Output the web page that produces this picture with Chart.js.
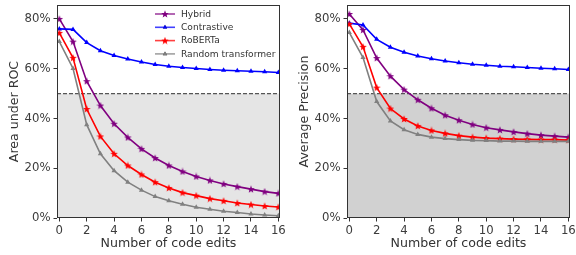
<!DOCTYPE html>
<html>
<head>
<meta charset="utf-8">
<script src="https://cdn.jsdelivr.net/npm/chart.js@4/dist/chart.umd.min.js"></script>
<style>
  html, body { margin: 0; padding: 0; background: #fff; }
  #wrap { position: relative; width: 576px; height: 255px; overflow: hidden; }
  #left { position: absolute; left: 0; top: 0; }
  #right { position: absolute; left: 290px; top: 0; }
</style>
</head>
<body>
<div id="wrap">
  <canvas id="left" width="290" height="255"></canvas>
  <canvas id="right" width="290" height="255"></canvas>
</div>
<script>
// number of code edits
const edits = [0, 1, 2, 3, 4, 5, 6, 7, 8, 9, 10, 11, 12, 13, 14, 15, 16];
const seriesNames = ['Hybrid', 'Contrastive', 'RoBERTa', 'Random transformer'];
const seriesColors = ['#800080', '#0000ff', '#ff0000', '#808080'];
const seriesMarkers = ['star', 'triangle', 'star', 'triangle'];

// Area under ROC (%)
const rocHybrid = [80, 70.9, 55, 45.2, 37.9, 32.4, 27.8, 24.1, 21.1, 18.7, 16.7, 15.1, 13.7, 12.6, 11.6, 10.6, 9.9];
const rocContrastive = [76, 75.8, 70.5, 67.2, 65.3, 63.9, 62.7, 61.7, 61, 60.5, 60.1, 59.7, 59.4, 59.2, 59, 58.8, 58.5];
const rocRoberta = [74.4, 64.4, 43.8, 32.8, 25.8, 21.1, 17.5, 14.4, 12.1, 10.2, 9, 7.8, 6.9, 6, 5.4, 4.8, 4.4];
const rocRandom = [70.9, 60.1, 37.5, 25.8, 19, 14.4, 11.2, 8.6, 6.9, 5.5, 4.3, 3.5, 2.7, 2.2, 1.6, 1.2, 0.9];

// Average precision (%)
const apHybrid = [82, 75.6, 64.3, 57, 51.6, 47.5, 44.1, 41.3, 39.3, 37.6, 36.3, 35.4, 34.6, 33.9, 33.3, 32.9, 32.5];
const apContrastive = [78.3, 77.6, 71.8, 68.6, 66.6, 65.1, 64, 63.1, 62.4, 61.8, 61.4, 61, 60.8, 60.5, 60.2, 60, 59.7];
const apRoberta = [78, 68.8, 52.4, 44, 39.8, 37, 35.2, 34, 33.1, 32.5, 32.1, 31.9, 31.7, 31.6, 31.5, 31.5, 31.3];
const apRandom = [74.5, 64.5, 46.8, 39, 35.5, 33.6, 32.5, 31.9, 31.5, 31.2, 31.1, 30.9, 30.9, 30.8, 30.8, 30.8, 30.8];

const yTicks = [0, 20, 40, 60, 80];
const xTicks = [0, 2, 4, 6, 8, 10, 12, 14, 16];
const chanceLevel = 50;

// small filled star like matplotlib '*'
function makeStar(color) {
  const c = document.createElement('canvas');
  c.width = 8; c.height = 8;
  const g = c.getContext('2d');
  g.fillStyle = color;
  g.beginPath();
  for (let i = 0; i < 10; i++) {
    const r = i % 2 === 0 ? 4 : 1.7;
    const a = -Math.PI / 2 + i * Math.PI / 5;
    const px = 4 + r * Math.cos(a), py = 4.3 + r * Math.sin(a);
    if (i === 0) g.moveTo(px, py); else g.lineTo(px, py);
  }
  g.closePath();
  g.fill();
  return c;
}

function pointStyleFor(i) {
  return seriesMarkers[i] === 'star' ? makeStar(seriesColors[i]) : 'triangle';
}

function makeDatasets(rows) {
  return rows.map((vals, i) => ({
    label: seriesNames[i],
    data: edits.map((e, k) => ({ x: e, y: vals[k] })),
    borderColor: seriesColors[i],
    backgroundColor: seriesColors[i],
    borderWidth: 1.6,
    pointStyle: pointStyleFor(i),
    pointRadius: 3,
    pointHoverRadius: 3,
    pointBorderWidth: 0,
    tension: 0,
    order: rows.length - 1 - i
  }));
}

// shaded area under chance level, dashed line and axes frame
const backdrop = {
  id: 'backdrop',
  beforeDatasetsDraw(chart, args, opts) {
    const { ctx, chartArea: a, scales } = chart;
    const y50 = scales.y.getPixelForValue(chanceLevel);
    const y0 = scales.y.getPixelForValue(0);
    ctx.save();
    ctx.fillStyle = opts.shade;
    ctx.fillRect(a.left, y50, a.right - a.left, y0 - y50);
    ctx.strokeStyle = '#555';
    ctx.lineWidth = 1.3;
    ctx.setLineDash([4, 2]);
    ctx.beginPath();
    ctx.moveTo(a.left, y50);
    ctx.lineTo(a.right, y50);
    ctx.stroke();
    ctx.restore();
  },
  afterDraw(chart) {
    const { ctx, chartArea: a } = chart;
    ctx.save();
    ctx.strokeStyle = '#333';
    ctx.lineWidth = 1;
    ctx.strokeRect(a.left + 0.5, a.top + 0.5, a.right - a.left - 1, a.bottom - a.top - 1);
    ctx.restore();
  }
};

// legend drawn inside the plot area
const innerLegend = {
  id: 'innerLegend',
  afterDraw(chart, args, opts) {
    if (!opts.show) return;
    const { ctx } = chart;
    ctx.save();
    ctx.font = '9.1px "DejaVu Sans"';
    ctx.textBaseline = 'middle';
    chart.data.datasets.forEach((ds, i) => {
      const y = 14 + i * 13.3;
      ctx.strokeStyle = ds.borderColor;
      ctx.globalAlpha = 0.75;
      ctx.lineWidth = 1.6;
      ctx.beginPath();
      ctx.moveTo(155, y);
      ctx.lineTo(175, y);
      ctx.stroke();
      ctx.globalAlpha = 1;
      Chart.helpers.drawPoint(ctx, { pointStyle: ds.pointStyle, radius: 2.5, borderWidth: 0 }, 165, y);
      ctx.fillStyle = ds.backgroundColor;
      ctx.fill();
      ctx.fillStyle = '#333';
      ctx.fillText(ds.label, 181, y + 0.5);
    });
    ctx.restore();
  }
};

function buildChart(id, title, rows, shade, rightPad, showLegend) {
  return new Chart(document.getElementById(id), {
    type: 'line',
    data: { datasets: makeDatasets(rows) },
    plugins: [backdrop, innerLegend],
    options: {
      responsive: false,
      animation: false,
      layout: { padding: { left: 0, right: rightPad, top: 5, bottom: 0 } },
      plugins: {
        legend: { display: false },
        tooltip: { enabled: false },
        backdrop: { shade: shade },
        innerLegend: { show: showLegend }
      },
      scales: {
        x: {
          type: 'linear',
          min: -0.17,
          max: 16.12,
          afterBuildTicks: (s) => { s.ticks = xTicks.map(v => ({ value: v })); },
          afterFit: (s) => { s.height = 37; s.paddingLeft = 0; s.paddingRight = 0; },
          ticks: { color: '#3c3c3c', font: { family: 'DejaVu Sans', size: 11.7 }, padding: 2, maxRotation: 0 },
          grid: { drawOnChartArea: false, tickLength: 3.5, color: '#333' },
          border: { display: false },
          title: { display: true, text: 'Number of code edits', color: '#333', font: { family: 'DejaVu Sans', size: 12.6 }, padding: { top: 0, bottom: 4 } }
        },
        y: {
          min: 0,
          max: 85.6,
          afterBuildTicks: (s) => { s.ticks = yTicks.map(v => ({ value: v })); },
          afterFit: (s) => { s.width = 57; s.paddingTop = 0; s.paddingBottom = 0; },
          ticks: { color: '#3c3c3c', font: { family: 'DejaVu Sans', size: 11.7 }, padding: 3, callback: (v) => v + '%' },
          grid: { drawOnChartArea: false, tickLength: 3.5, color: '#333' },
          border: { display: false },
          title: { display: true, text: title, color: '#333', font: { family: 'DejaVu Sans', size: 12.6 }, padding: { top: 7, bottom: 0 } }
        }
      }
    }
  });
}

buildChart('left', 'Area under ROC', [rocHybrid, rocContrastive, rocRoberta, rocRandom], '#e5e5e5', 10, true);
buildChart('right', 'Average Precision', [apHybrid, apContrastive, apRoberta, apRandom], '#d1d1d1', 10, false);
</script>
</body>
</html>
